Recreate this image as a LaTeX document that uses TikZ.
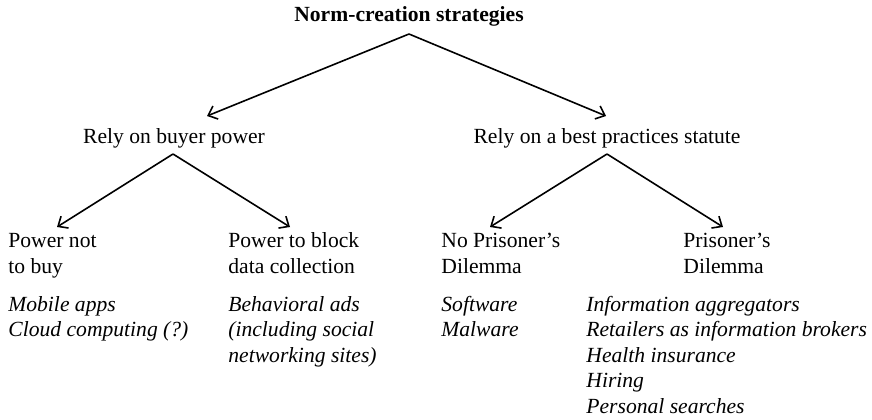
\documentclass[tikz,border=0pt]{standalone}
\usepackage{fontspec}
\setmainfont{Liberation Serif}
\usetikzlibrary{arrows.meta}

\begin{document}
\begin{tikzpicture}[x=0.5pt,y=-0.5pt]
  \tikzset{
    txt/.style={inner sep=0pt,font=\fontsize{10.8}{12.75}\selectfont},
    lbl/.style={txt,anchor=base west},
    ex/.style={lbl,font=\fontsize{10.8}{12.75}\selectfont\itshape},
    branch/.style={line width=0.8pt,-{Straight Barb[length=4pt,width=7pt,line width=0.8pt]}}
  }
  \useasboundingbox (0,0) rectangle (872,419);

  % top
  \node[txt,anchor=base,font=\fontsize{10.8}{12.75}\selectfont\bfseries] (title) at (409,21) {Norm-creation strategies};
  \node[txt,anchor=base] (buyer) at (174,143) {Rely on buyer power};
  \node[txt,anchor=base] (statute) at (607,143) {Rely on a best practices statute};

  % heads
  \node[lbl] (notbuy1) at (8,247) {Power not};
  \node[lbl] (notbuy2) at (8,273) {to buy};
  \node[lbl] (block1) at (228,247) {Power to block};
  \node[lbl] (block2) at (228,273) {data collection};
  \node[lbl] (nopd1) at (441,247) {No Prisoner’s};
  \node[lbl] (nopd2) at (441,273) {Dilemma};
  \node[lbl] (pd1) at (683,247) {Prisoner’s};
  \node[lbl] (pd2) at (683,273) {Dilemma};

  % examples
  \foreach \t [count=\i] in {{Mobile apps}, {Cloud computing (?)}}
    \node[ex] (exbuy\i) at (8,{311+25.5*(\i-1)}) {\t};
  \foreach \t [count=\i] in {{Behavioral ads}, {(including social}, {networking sites)}}
    \node[ex] (exblock\i) at (228,{311+25.5*(\i-1)}) {\t};
  \foreach \t [count=\i] in {{Software}, {Malware}}
    \node[ex] (exnopd\i) at (441,{311+25.5*(\i-1)}) {\t};
  \foreach \t [count=\i] in {{Information aggregators}, {Retailers as information brokers},
                             {Health insurance}, {Hiring}, {Personal searches}}
    \node[ex] (expd\i) at (586,{311+25.5*(\i-1)}) {\t};

  % branch points
  \coordinate (topfork) at (409,34);
  \coordinate (buyerfork) at (173,154);
  \coordinate (statutefork) at (607,154);
  \coordinate (tobuyer) at (207,116);
  \coordinate (tostatute) at (606,116);
  \coordinate (tonotbuy) at (57,227);
  \coordinate (toblock) at (290,227);
  \coordinate (tonopd) at (490,227);
  \coordinate (topd) at (723,227);

  \foreach \a/\b in {topfork/tobuyer, topfork/tostatute,
                     buyerfork/tonotbuy, buyerfork/toblock,
                     statutefork/tonopd, statutefork/topd}
  {
    \draw[branch] (\a) -- (\b);
  }
\end{tikzpicture}
\end{document}
